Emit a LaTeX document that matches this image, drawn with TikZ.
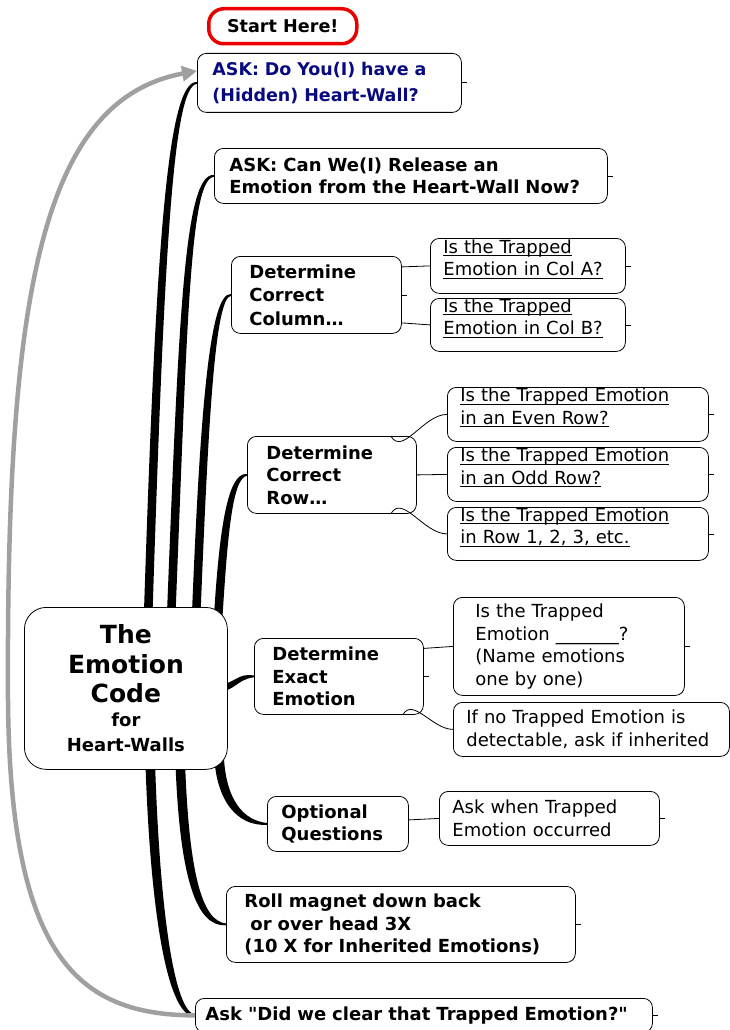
\documentclass[tikz,border=0pt]{standalone}
\usepackage{fontspec}
\setmainfont{DejaVu Sans}
\newfontfamily\qfont{DejaVu Sans}
\usetikzlibrary{calc,arrows.meta}
\pgfdeclarelayer{bg}
\pgfsetlayers{bg,main}
\definecolor{navy}{RGB}{10,10,128}
\definecolor{startred}{RGB}{235,0,0}
\definecolor{loopgray}{RGB}{160,160,160}
\newcommand\ulx[1]{\leavevmode\underline{\smash{#1}\rule[-1.2pt]{0pt}{1pt}}}
% tapered branch: start, c1, c2, end, half-width vector, bend offset
\newcommand\brtaper[6]{%
  \fill ($#1-#5$) .. controls ($#2-#5$) and ($#3-0.7*#5+(0,-#6)$) .. ($#4+(0,-0.9)$)
        -- ($#4+(0,0.9)$) .. controls ($#3+0.7*#5+(0,#6)$) and ($#2+#5$) .. ($#1+#5$) -- cycle;}
\begin{document}
\begin{tikzpicture}[x=1pt,y=-1pt,
  box/.style={draw, line width=0.8pt, rounded corners=9pt, fill=white,
    anchor=north west, align=left, inner ysep=0pt,
    font=\fontsize{18}{22.5}\selectfont},
  bbox/.style={box, font=\fontsize{18}{22.5}\selectfont\bfseries},
  thinline/.style={line width=0.8pt},
  stub/.style={line width=0.8pt},
  loop/.style={draw=loopgray, line width=4.5pt, -{Triangle[length=15pt,width=15pt]}}]
\useasboundingbox (0,0) rectangle (730,1030);

% ---- nodes ----
\node[draw=startred, line width=3.5pt, rounded corners=15pt, fill=white, anchor=north west,
  minimum width=148pt, minimum height=35pt, inner sep=0pt,
  font=\fontsize{17.6}{21}\selectfont\bfseries] (start) at (207,7) {Start Here!};

\node[bbox, text width=234pt, inner xsep=15pt, minimum height=59pt, text=navy,
  font=\fontsize{17.5}{26}\selectfont\bfseries] (n1) at (197,53)
  {ASK: Do You(I) have a\\(Hidden) Heart-Wall?};

\node[bbox, text width=363pt, inner xsep=15pt, minimum height=55pt] (n2) at (214,148)
  {ASK: Can We(I) Release an\\Emotion from the Heart-Wall Now?};

\node[bbox, text width=134pt, inner xsep=18pt, minimum height=77pt,
  font=\fontsize{18}{23.5}\selectfont\bfseries] (col) at (231,256)
  {Determine\\Correct\\Column…};
\node[box, text width=169pt, inner xsep=13pt, minimum height=55pt] (colA) at (430,238)
  {\ulx{Is the Trapped}\\\ulx{Emotion in Col A?}};
\node[box, text width=169pt, inner xsep=13pt, minimum height=53pt] (colB) at (430,298)
  {\ulx{Is the Trapped}\\\ulx{Emotion in Col B?}};

\node[bbox, text width=131pt, inner xsep=19pt, minimum height=77pt] (row) at (247,436)
  {Determine\\Correct\\Row…};
\node[box, text width=235pt, inner xsep=13pt, minimum height=54pt] (rowA) at (447,387)
  {\ulx{Is the Trapped Emotion}\\\ulx{in an Even Row?}};
\node[box, text width=235pt, inner xsep=13pt, minimum height=54pt] (rowB) at (447,447)
  {\ulx{Is the Trapped Emotion}\\\ulx{in an Odd Row?}};
\node[box, text width=235pt, inner xsep=13pt, minimum height=53pt] (rowC) at (447,507)
  {\ulx{Is the Trapped Emotion}\\\ulx{in Row 1, 2, 3, etc.}};

\node[bbox, text width=133pt, inner xsep=18pt, minimum height=76pt] (exact) at (254,638)
  {Determine\\Exact\\Emotion};
\node[box, text width=187pt, inner xsep=22pt, minimum height=98pt] (exA) at (453,597)
  {Is the Trapped\\Emotion \_\_\_\_\_\_\_?\\(Name emotions\\one by one)};
\node[box, text width=250pt, inner xsep=13pt, minimum height=54pt] (exB) at (453,702)
  {If no Trapped Emotion is\\detectable, ask if inherited};

\node[draw, line width=0.8pt, rounded corners=22pt, fill=white, anchor=north west,
  minimum width=203pt, minimum height=162pt, inner sep=0pt, align=center,
  font=\bfseries\fontsize{25}{29.5}\selectfont] (central) at (24,607)
  {The\\Emotion\\Code\\[-6pt]\fontsize{18}{23}\selectfont for\\[-4pt]\fontsize{18}{23}\selectfont Heart-Walls};

\node[bbox, text width=113pt, inner xsep=14pt, minimum height=55pt] (opt) at (267,796)
  {Optional\\Questions};
\node[box, text width=194pt, inner xsep=13pt, minimum height=54pt] (optA) at (439,791)
  {Ask when Trapped\\Emotion occurred};

\node[bbox, text width=313pt, inner xsep=18pt, minimum height=76pt] (roll) at (226,886)
  {Roll magnet down back\\\hspace*{6pt}or over head 3X\\(10 X for Inherited Emotions)};

\node[bbox, text width=437pt, inner xsep=10pt, minimum height=34pt,
  font=\fontsize{18}{22.5}\qfont\bfseries] (final) at (195,998)
  {Ask "Did we clear that Trapped Emotion?"};

% ---- tapered main branches (behind the boxes) ----
\begin{pgfonlayer}{bg}
\brtaper{($(central.north west)+(124,13)$)}{(160,250)}{(170,83)}{(n1.west)}{(4.3,0)}{3}
\brtaper{($(central.north west)+(147,13)$)}{(183,320)}{(187,175.5)}{(n2.west)}{(4.3,0)}{3}
\brtaper{($(central.north west)+(172,13)$)}{(204,420)}{(212,294.5)}{(col.west)}{(4.3,0)}{3}
\brtaper{($(central.north west)+(194,13)$)}{(223,540)}{(229,474.5)}{(row.west)}{(4.3,0)}{3}
\brtaper{($(central.east)+(-12,0)$)}{(236,688)}{(236,676)}{(exact.west)}{(0,3.5)}{1}
\brtaper{($(central.south west)+(195,-14)$)}{(221,800)}{(240,823.5)}{(opt.west)}{(-4.8,0)}{3}
\brtaper{($(central.south west)+(156,-14)$)}{(184,880)}{(200,924)}{(roll.west)}{(-4.8,0)}{3}
\brtaper{($(central.south west)+(126,-14)$)}{(155,920)}{(172,1015)}{(final.west)}{(-4.8,0)}{3}
\end{pgfonlayer}

% ---- thin sub-branches ----
\draw[thinline] ([yshift=28pt]col.east) -- (colA.west);
\draw[thinline] ([yshift=-28pt]col.east) -- (colB.west);
\draw[thinline] ([xshift=-26pt]row.north east) to[out=-60,in=180] (rowA.west);
\draw[thinline] (row.east) -- (rowB.west);
\draw[thinline] ([xshift=-26pt]row.south east) to[out=60,in=180] (rowC.west);
\draw[thinline] ([yshift=28pt]exact.east) -- (exA.west);
\draw[thinline] ([xshift=-21pt]exact.south east) to[out=60,in=180] (exB.west);
\draw[thinline] ([yshift=4pt]opt.east) -- (optA.west);

% ---- collapse stubs ----
\foreach \n in {n1,n2,col,colA,colB,rowA,rowB,rowC,exact,exA,optA,roll,final}
  \draw[stub] (\n.east) -- ++(5,0);

% ---- gray loop arrow ----
\draw[loop] (final.west) .. controls (80,1015) and (10,960) .. (8,700)
  .. controls (6,300) and (40,100) .. ([yshift=12pt]n1.west);
\end{tikzpicture}
\end{document}
